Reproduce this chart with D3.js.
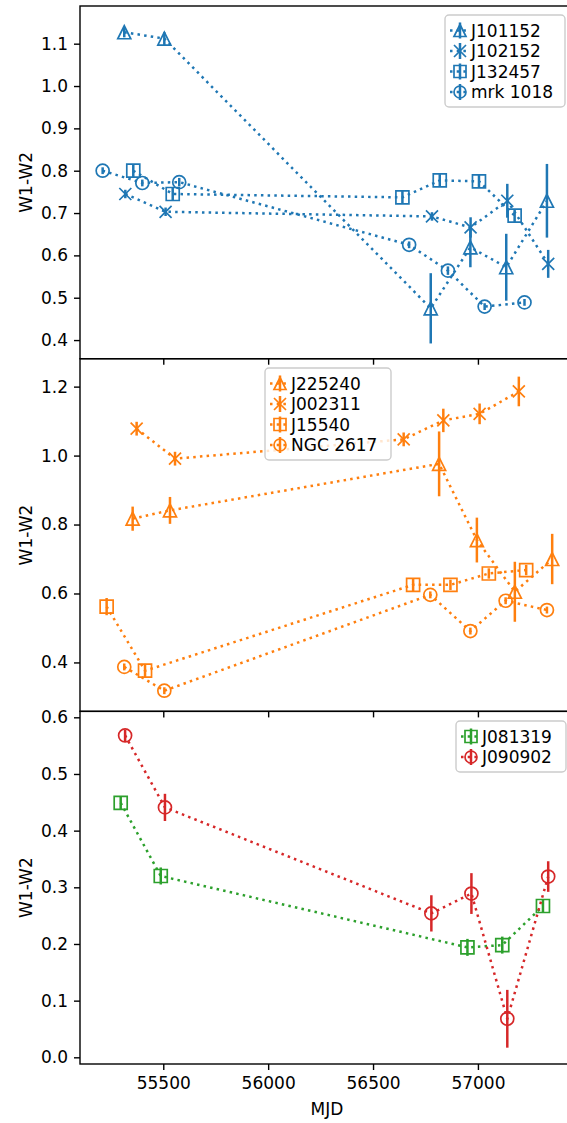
<!DOCTYPE html>
<html>
<head>
<meta charset="utf-8">
<script src="https://cdn.jsdelivr.net/npm/d3@7"></script>
<style>
body { margin: 0; background: #fff; }
svg text { font-family: "DejaVu Sans", sans-serif; }
</style>
</head>
<body>
<div id="chart"></div>
<script>
// waarden (MJD, W1-W2 en fout)
const j101152Mjd = [55314, 55505, 56775, 56964, 57135, 57329];
const j101152W = [1.127, 1.112, 0.475, 0.619, 0.572, 0.729];
const j101152Err = [0.012, 0.015, 0.083, 0.047, 0.079, 0.087];

const j102152Mjd = [55319, 55511, 56781, 56965, 57140, 57335];
const j102152W = [0.745, 0.703, 0.692, 0.666, 0.729, 0.580];
const j102152Err = [0.01, 0.01, 0.01, 0.024, 0.04, 0.033];

const j132457Mjd = [55357, 55545, 56640, 56818, 57005, 57175];
const j132457W = [0.800, 0.745, 0.737, 0.777, 0.775, 0.694];
const j132457Err = [0.015, 0.015, 0.015, 0.015, 0.015, 0.015];

const mrk1018Mjd = [55211, 55400, 55576, 56672, 56857, 57032, 57222];
const mrk1018W = [0.800, 0.771, 0.773, 0.625, 0.564, 0.479, 0.489];
const mrk1018Err = [0.008, 0.008, 0.01, 0.008, 0.01, 0.008, 0.008];

const j225240Mjd = [55354, 55532, 56815, 56995, 57176, 57354];
const j225240W = [0.817, 0.841, 0.976, 0.755, 0.605, 0.700];
const j225240Err = [0.035, 0.039, 0.094, 0.065, 0.087, 0.073];

const j002311Mjd = [55373, 55556, 56646, 56835, 57008, 57195];
const j002311W = [1.078, 0.991, 1.047, 1.102, 1.121, 1.186];
const j002311Err = [0.02, 0.02, 0.02, 0.034, 0.03, 0.043];

const j15540Mjd = [55230, 55413, 56691, 56869, 57052, 57230];
const j15540W = [0.562, 0.376, 0.625, 0.625, 0.658, 0.668];
const j15540Err = [0.025, 0.02, 0.02, 0.015, 0.015, 0.015];

const ngc2617Mjd = [55314, 55505, 56773, 56964, 57132, 57329];
const ngc2617W = [0.387, 0.318, 0.596, 0.491, 0.579, 0.552];
const ngc2617Err = [0.01, 0.01, 0.01, 0.01, 0.01, 0.01];

const j081319Mjd = [55297, 55488, 56950, 57116, 57310];
const j081319W = [0.449, 0.320, 0.194, 0.198, 0.267];
const j081319Err = [0.012, 0.015, 0.015, 0.015, 0.012];

const j090902Mjd = [55318, 55508, 56778, 56969, 57140, 57335];
const j090902W = [0.568, 0.441, 0.254, 0.289, 0.068, 0.319];
const j090902Err = [0.01, 0.024, 0.032, 0.036, 0.051, 0.027];

// tick labels
const xTicks = [55500, 56000, 56500, 57000];
const yTicksTop = [0.4, 0.5, 0.6, 0.7, 0.8, 0.9, 1.0, 1.1];
const yTicksMid = [0.4, 0.6, 0.8, 1.0, 1.2];
const yTicksBot = [0.0, 0.1, 0.2, 0.3, 0.4, 0.5, 0.6];

const blue = "#1f77b4", orange = "#ff7f0e", green = "#2ca02c", red = "#d62728";

function serie(name, mjd, w, err, color, marker) {
    return {
        name: name, color: color, marker: marker,
        points: mjd.map((m, i) => ({ mjd: m, w: w[i], err: err[i] }))
    };
}

const panels = [
    {
        top: 6, domain: [0.356, 1.189], ticks: yTicksTop, fmt: ".1f",
        legend: { x: 445, y: 15, w: 120 },
        series: [
            serie("J101152", j101152Mjd, j101152W, j101152Err, blue, "triangle"),
            serie("J102152", j102152Mjd, j102152W, j102152Err, blue, "x"),
            serie("J132457", j132457Mjd, j132457W, j132457Err, blue, "square"),
            serie("mrk 1018", mrk1018Mjd, mrk1018W, mrk1018Err, blue, "circle")
        ]
    },
    {
        top: 358.7, domain: [0.258, 1.281], ticks: yTicksMid, fmt: ".1f",
        legend: { x: 265, y: 368, w: 126 },
        series: [
            serie("J225240", j225240Mjd, j225240W, j225240Err, orange, "triangle"),
            serie("J002311", j002311Mjd, j002311W, j002311Err, orange, "x"),
            serie("J15540", j15540Mjd, j15540W, j15540Err, orange, "square"),
            serie("NGC 2617", ngc2617Mjd, ngc2617W, ngc2617Err, orange, "circle")
        ]
    },
    {
        top: 711.3, domain: [-0.0118, 0.6106], ticks: yTicksBot, fmt: ".1f",
        legend: { x: 456, y: 721, w: 110 },
        series: [
            serie("J081319", j081319Mjd, j081319W, j081319Err, green, "square"),
            serie("J090902", j090902Mjd, j090902W, j090902Err, red, "circle")
        ]
    }
];

const width = 567, height = 1123,
    left = 80, right = 574, panelH = 352.7,
    ms = 13, fontSize = 17;

const svg = d3.select("#chart")
    .append("svg")
    .attr("width", width)
    .attr("height", height);

const x = d3.scaleLinear()
    .domain([55103, 57458])
    .range([left, right]);

// marker vormen zoals matplotlib ze tekent
function markerPath(type, s) {
    const h = s / 2;
    if (type === "triangle") return `M0,${-h}L${h},${h}L${-h},${h}Z`;
    if (type === "square") return `M${-h},${-h}H${h}V${h}H${-h}Z`;
    if (type === "x") return `M${-h},${-h}L${h},${h}M${-h},${h}L${h},${-h}`;
    return `M${h},0A${h},${h},0,1,1,${-h},0A${h},${h},0,1,1,${h},0Z`;
}

panels.forEach(function (p, idx) {
    const y = d3.scaleLinear()
        .domain(p.domain)
        .range([p.top + panelH, p.top]);

    const g = svg.append("g");

    // lijnen, foutbalken en markers per serie
    p.series.forEach(function (s) {
        const line = d3.line()
            .x(d => x(d.mjd))
            .y(d => y(d.w));

        g.append("path")
            .datum(s.points)
            .attr("d", line)
            .attr("fill", "none")
            .attr("stroke", s.color)
            .attr("stroke-width", 2.5)
            .attr("stroke-dasharray", "2.5 4.2");

        g.selectAll(null)
            .data(s.points)
            .enter()
            .append("line")
            .attr("x1", d => x(d.mjd))
            .attr("x2", d => x(d.mjd))
            .attr("y1", d => y(d.w - d.err))
            .attr("y2", d => y(d.w + d.err))
            .attr("stroke", s.color)
            .attr("stroke-width", 2.5);

        g.selectAll(null)
            .data(s.points)
            .enter()
            .append("path")
            .attr("transform", d => "translate(" + x(d.mjd) + "," + y(d.w) + ")")
            .attr("d", markerPath(s.marker, s.marker === "x" ? ms - 1 : ms))
            .attr("fill", "none")
            .attr("stroke", s.color)
            .attr("stroke-width", 1.7);
    });

    // assen
    const yAxis = g.append("g")
        .attr("transform", "translate(" + left + ",0)")
        .call(d3.axisLeft(y).tickValues(p.ticks).tickFormat(d3.format(p.fmt))
            .tickSize(6).tickPadding(6).tickSizeOuter(0));

    const xAxis = g.append("g")
        .attr("transform", "translate(0," + (p.top + panelH) + ")")
        .call(d3.axisBottom(x).tickValues(xTicks)
            .tickFormat(idx === panels.length - 1 ? d3.format("d") : () => "")
            .tickSize(6).tickPadding(5).tickSizeOuter(0));

    [yAxis, xAxis].forEach(function (a) {
        a.attr("font-family", null).attr("font-size", null);
        a.select(".domain").remove();
        a.selectAll(".tick line").attr("stroke", "#000").attr("stroke-width", 1.4);
        a.selectAll(".tick text").attr("fill", "#000").style("font-size", fontSize + "px");
    });
    xAxis.selectAll(".tick text").attr("dy", "0.8em");

    // kader
    g.append("rect")
        .attr("x", left)
        .attr("y", p.top)
        .attr("width", right - left)
        .attr("height", panelH)
        .attr("fill", "none")
        .attr("stroke", "#000")
        .attr("stroke-width", 1.4);

    // y-as titel
    g.append("text")
        .attr("transform", "translate(32," + (p.top + panelH / 2) + ") rotate(-90)")
        .attr("text-anchor", "middle")
        .style("font-size", fontSize + "px")
        .text("W1-W2");

    // legenda
    const rowH = 20.5;
    const lg = g.append("g")
        .attr("transform", "translate(" + p.legend.x + "," + p.legend.y + ")");

    lg.append("rect")
        .attr("width", p.legend.w)
        .attr("height", p.series.length * rowH + 10)
        .attr("rx", 4)
        .attr("fill", "#fff")
        .attr("fill-opacity", 0.8)
        .attr("stroke", "#cccccc")
        .attr("stroke-width", 1.4);

    p.series.forEach(function (s, i) {
        const cy = 15.5 + i * rowH;
        lg.append("line")
            .attr("x1", 5).attr("x2", 25)
            .attr("y1", cy).attr("y2", cy)
            .attr("stroke", s.color)
            .attr("stroke-width", 2.5)
            .attr("stroke-dasharray", "2.5 4.2");
        lg.append("line")
            .attr("x1", 15).attr("x2", 15)
            .attr("y1", cy - 8).attr("y2", cy + 8)
            .attr("stroke", s.color)
            .attr("stroke-width", 2.5);
        lg.append("path")
            .attr("transform", "translate(15," + cy + ")")
            .attr("d", markerPath(s.marker, 12))
            .attr("fill", "none")
            .attr("stroke", s.color)
            .attr("stroke-width", 1.7);
        lg.append("text")
            .attr("x", 26)
            .attr("y", cy)
            .attr("dy", "0.36em")
            .style("font-size", fontSize + "px")
            .text(s.name);
    });
});

// x-as titel
svg.append("text")
    .attr("x", (left + right) / 2)
    .attr("y", 1115)
    .attr("text-anchor", "middle")
    .style("font-size", fontSize + "px")
    .text("MJD");
</script>
</body>
</html>
